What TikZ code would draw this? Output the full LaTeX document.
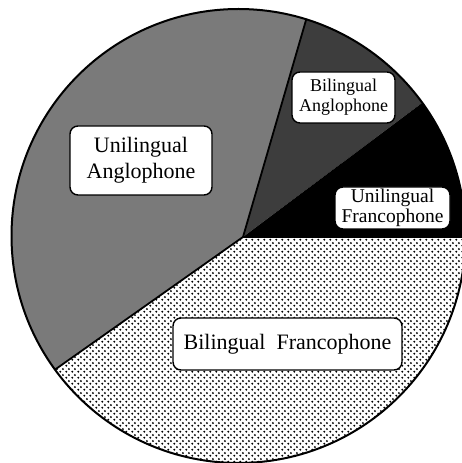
\documentclass[tikz,border=0pt]{standalone}
\usepackage{fontspec}
\setmainfont{Liberation Serif}
\usetikzlibrary{patterns.meta}
\tikzdeclarepattern{
  name=frdots,
  type=uncolored,
  bottom left={(0pt,0pt)},
  top right={(5.6pt,5.6pt)},
  tile size={(5.6pt,5.6pt)},
  code={\fill (1.4pt,1.4pt) circle (1.15pt); \fill (4.2pt,4.2pt) circle (1.15pt);}
}
\tikzset{slice/.style = {line width=1.8pt},
  tag/.style = {draw, fill=white, line width=1.4pt, rounded corners=8pt, inner sep=0pt, align=center}}

\begin{document}
\begin{tikzpicture}[x=1pt,y=1pt]
  \useasboundingbox (0,0) rectangle (461,463);
  \coordinate (O) at (238.5,227);
  \coordinate (V) at (243,226);
  \begin{scope}
    \clip (O) circle[radius=227];
    \fill[black!52] (V) -- ++(73.8:600) arc[start angle=73.8, end angle=215.2, radius=600] -- cycle;
    \fill[black!76] (V) -- ++(36.8:600) arc[start angle=36.8, end angle=73.8, radius=600] -- cycle;
    \fill[black] (V) -- ++(0:600) arc[start angle=0, end angle=36.8, radius=600] -- cycle;
    \fill[white] (V) -- ++(215.2:600) arc[start angle=215.2, end angle=360, radius=600] -- cycle;
    \fill[pattern=frdots, pattern color=black] (V) -- ++(215.2:600) arc[start angle=215.2, end angle=360, radius=600] -- cycle;
    \draw[slice] (V) -- ++(73.8:600);
    \draw[slice] (V) -- ++(215.2:600);
    \draw[slice] (V) -- ++(0:600);
  \end{scope}
  \draw[line width=2pt] (O) circle[radius=227];
  \node[tag, minimum width=142, minimum height=69, font=\fontsize{22}{26}\selectfont] (ua) at (141,302.5) {Unilingual\\Anglophone};
  \node[tag, minimum width=103, minimum height=51, font=\fontsize{18}{20}\selectfont] (ba) at (343.5,365.5) {Bilingual\\Anglophone};
  \node[tag, minimum width=115, minimum height=42, font=\fontsize{19.5}{19.5}\selectfont] (uf) at (392.5,255) {Unilingual\\Francophone};
  \node[tag, minimum width=229, minimum height=52, font=\fontsize{22}{26}\selectfont] (bf) at (287.5,119) {Bilingual\hspace{0.5em}Francophone};
\end{tikzpicture}
\end{document}
